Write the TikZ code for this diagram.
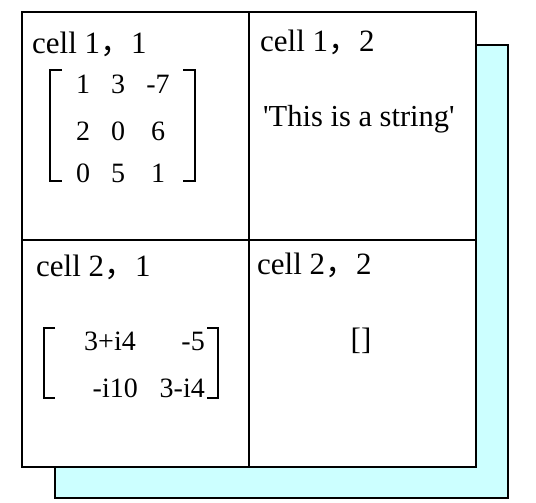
\documentclass[tikz,border=0pt]{standalone}
\usepackage{fontspec}
\setmainfont{Liberation Serif}[Ligatures=TeXOff]
\newfontfamily\cjk{Noto Sans CJK SC}
\definecolor{shadowcyan}{RGB}{204,255,255}
\tikzset{
  frame/.style={line width=2pt, draw=black},
  lbl/.style={anchor=base west, inner sep=0pt, font=\fontsize{31}{36}\selectfont},
  ent/.style={anchor=base, inner sep=0pt, font=\fontsize{28}{32}\selectfont},
  entr/.style={anchor=base east, inner sep=0pt, font=\fontsize{28}{32}\selectfont},
  brk/.style={line width=1.5pt, draw=black}
}
\newcommand{\fwc}{{\cjk ，}}
\begin{document}
\begin{tikzpicture}[x=1pt,y=-1pt]
\useasboundingbox (0,0) rectangle (536,503);
% shadow
\fill[shadowcyan] (55,45) rectangle (508,498);
\draw[frame] (55,45) rectangle (508,498);
% main grid
\fill[white] (22,12) rectangle (476,467);
\draw[frame] (22,12) rectangle (476,467);
\draw[frame] (249,12) -- (249,467);
\draw[frame] (22,240) -- (476,240);
% labels
\node[lbl] (l11) at (32,54) {cell 1\fwc1};
\node[lbl] (l12) at (260,52) {cell 1\fwc2};
\node[lbl] (l21) at (36,276) {cell 2\fwc1};
\node[lbl] (l22) at (257,274) {cell 2\fwc2};
% string
\node[lbl, font=\fontsize{30.5}{36}\selectfont] (str) at (263,127) {'This is a string'};
% empty
\node[anchor=base, inner sep=0pt, font=\fontsize{31}{36}\selectfont] (emp) at (361,349) {[]};
% matrix 1
\draw[brk] (62,70) -- (50,70) -- (50,181) -- (62,181);
\draw[brk] (183,70) -- (195,70) -- (195,181) -- (183,181);
\node[ent] (a11) at (83,93) {1};
\node[ent] (a12) at (118,93) {3};
\node[ent] (a13) at (158,93) {-7};
\node[ent] (a21) at (83,140) {2};
\node[ent] (a22) at (118,140) {0};
\node[ent] (a23) at (158,140) {6};
\node[ent] (a31) at (83,182) {0};
\node[ent] (a32) at (118,182) {5};
\node[ent] (a33) at (158,182) {1};
% matrix 2
\draw[brk] (55,328) -- (44,328) -- (44,398) -- (55,398);
\draw[brk] (207,328) -- (218,328) -- (218,398) -- (207,398);
\node[entr] (b11) at (136,350) {3+i4};
\node[entr] (b12) at (205,350) {-5};
\node[entr] (b21) at (138,397) {-i10};
\node[entr] (b22) at (205,397) {3-i4};
\end{tikzpicture}
\end{document}
